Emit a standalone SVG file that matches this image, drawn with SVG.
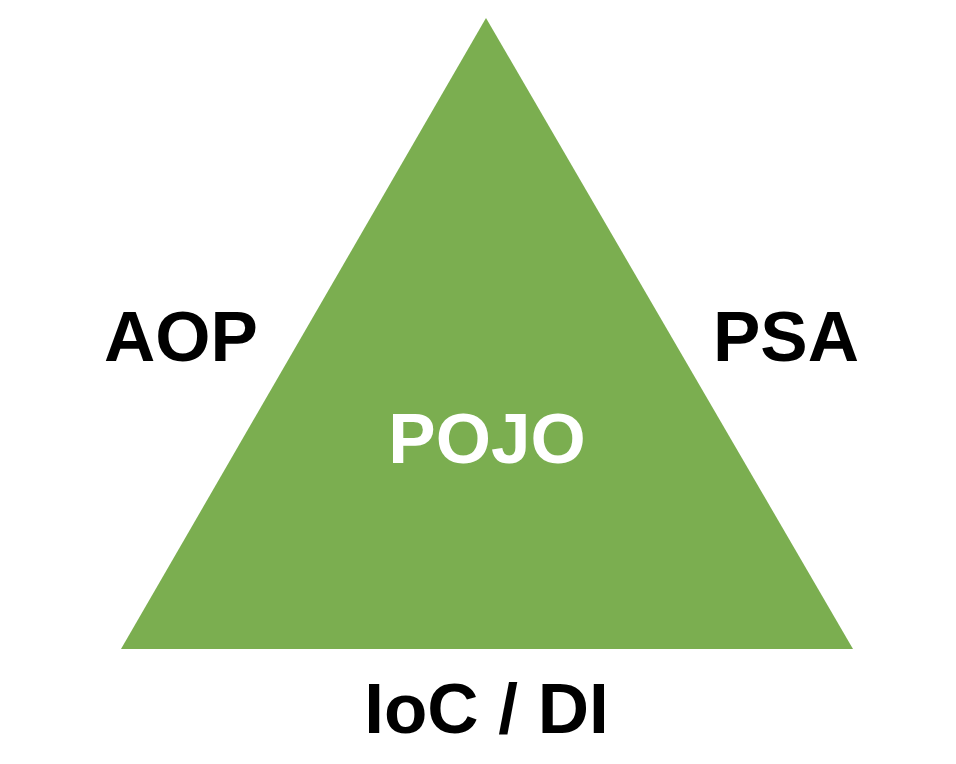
<svg xmlns="http://www.w3.org/2000/svg" width="956" height="764" viewBox="0 0 956 764">
<style>
.lbl{font-family:"Liberation Sans",Arial,sans-serif;font-weight:bold;font-size:71px;fill:#000}
.in{fill:#fff;text-anchor:middle}
</style>
<rect width="956" height="764" fill="#fff"/>
<g id="triangle">
<polygon points="486,18 853,649 121,649" fill="#7bae50"/>
<text class="lbl in" x="487" y="463">POJO</text>
</g>
<g id="aop"><text class="lbl" x="104" y="361">AOP</text></g>
<g id="psa"><text class="lbl" x="713" y="361">PSA</text></g>
<g id="ioc"><text class="lbl" x="486.5" y="733" text-anchor="middle">IoC / DI</text></g>
<g id="connectors"></g>
</svg>
